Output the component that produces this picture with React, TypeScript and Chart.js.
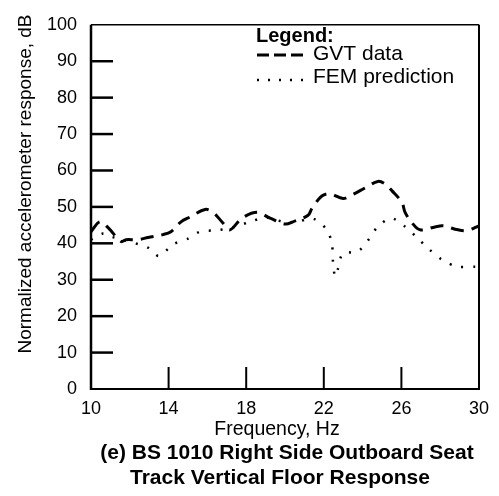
import React, { useEffect, useRef } from "react";
import { Chart, registerables } from "chart.js";

Chart.register(...registerables);

// Frequency (Hz) and normalized response (dB)
const gvtFreq = [10.0, 10.46, 10.88, 11.55, 11.8, 12.42, 12.94, 13.71, 14.12, 14.64, 15.1, 15.88, 16.29, 16.8, 17.16, 17.78, 18.56, 19.23, 20.0, 20.41, 21.19, 21.39, 21.9, 22.32, 22.99, 23.45, 24.12, 24.79, 25.15, 25.52, 26.03, 26.19, 26.55, 26.96, 27.73, 28.14, 28.92, 29.38, 30.0];
const gvtDb = [43.2, 45.9, 44.3, 40.5, 41.0, 41.0, 41.6, 42.4, 43.2, 45.9, 47.2, 49.3, 48.5, 45.6, 43.7, 46.9, 48.5, 46.9, 45.3, 45.9, 47.7, 49.6, 53.0, 53.6, 52.3, 53.3, 55.2, 57.0, 56.3, 54.4, 51.2, 48.5, 45.6, 43.7, 44.5, 44.8, 43.7, 43.5, 44.8];

const femFreq = [10.0, 10.62, 10.98, 11.75, 12.94, 13.5, 14.23, 15.0, 15.62, 16.49, 17.27, 18.2, 19.07, 19.9, 20.62, 21.44, 22.16, 22.42, 22.47, 22.58, 22.73, 22.99, 23.71, 24.28, 24.74, 25.46, 26.13, 26.8, 27.42, 28.09, 28.87, 29.79, 30.0];
const femDb = [41.0, 42.7, 41.9, 40.8, 38.8, 36.5, 39.7, 41.3, 43.2, 43.6, 44.3, 45.9, 47.1, 45.9, 45.9, 46.8, 43.7, 39.7, 35.2, 30.9, 33.0, 37.3, 37.6, 40.8, 44.3, 46.9, 44.8, 41.6, 38.4, 35.5, 33.6, 33.6, 33.6];

const xTickValues = [10, 14, 18, 22, 26, 30];
const yTickValues = [0, 10, 20, 30, 40, 50, 60, 70, 80, 90, 100];

const seriesNames = ["GVT data", "FEM prediction"];
const legendTitle = "Legend:";
const xTitle = "Frequency, Hz";
const yTitle = "Normalized accelerometer response, dB";
const captionLines = ["(e) BS 1010 Right Side Outboard Seat", "Track Vertical Floor Response"];

const FONT = "'Liberation Sans', Arial, Helvetica, sans-serif";

const framePlugin = {
  id: "frameAndText",
  afterDatasetsDraw(chart: any) {
    const { ctx, chartArea, scales } = chart;
    const { left, right, top, bottom } = chartArea;
    const xs = scales.x;
    const ys = scales.y;
    const line = (x1: number, y1: number, x2: number, y2: number) => {
      ctx.beginPath();
      ctx.moveTo(x1, y1);
      ctx.lineTo(x2, y2);
      ctx.stroke();
    };
    ctx.save();
    ctx.strokeStyle = "#000";
    ctx.setLineDash([]);
    ctx.lineCap = "butt";
    ctx.lineWidth = 2.5;
    line(left, top, left, bottom + 1);
    ctx.lineWidth = 2;
    line(left, bottom, right, bottom);
    line(right, top, right, bottom + 1);
    ctx.lineWidth = 1.5;
    line(left, top, right, top);

    ctx.lineWidth = 2.5;
    yTickValues.slice(1, -1).forEach((v) => {
      const py = ys.getPixelForValue(v);
      line(left, py, left + 22, py);
    });
    ctx.lineWidth = 2;
    xTickValues.slice(1, -1).forEach((v) => {
      const px = xs.getPixelForValue(v);
      line(px, bottom, px, bottom - 22);
    });

    ctx.fillStyle = "#000";
    // Y title
    ctx.save();
    ctx.translate(26, 184);
    ctx.rotate(-Math.PI / 2);
    ctx.font = `19px ${FONT}`;
    ctx.textAlign = "center";
    ctx.textBaseline = "middle";
    ctx.fillText(yTitle, 0, 0);
    ctx.restore();

    // X title
    ctx.font = `19.5px ${FONT}`;
    ctx.textAlign = "center";
    ctx.textBaseline = "middle";
    ctx.fillText(xTitle, 277, 430);

    // Caption
    ctx.font = `bold 21px ${FONT}`;
    ctx.fillText(captionLines[0], 287, 453);
    ctx.fillText(captionLines[1], 280, 478);

    // Legend
    ctx.textAlign = "left";
    ctx.font = `bold 20px ${FONT}`;
    ctx.fillText(legendTitle, 256, 36);
    ctx.font = `21px ${FONT}`;
    ctx.fillText(seriesNames[0], 313, 54);
    ctx.fillText(seriesNames[1], 313, 77);
    ctx.lineWidth = 3;
    ctx.setLineDash([12, 5]);
    line(257, 55, 303, 55);
    ctx.lineWidth = 2.5;
    ctx.setLineDash([2, 9]);
    line(257, 80, 303, 80);
    ctx.restore();
  },
};

export default function App() {
  const canvasRef = useRef<HTMLCanvasElement>(null);

  useEffect(() => {
    if (!canvasRef.current) return;
    const chart = new Chart(canvasRef.current, {
      type: "line",
      data: {
        datasets: [
          {
            label: seriesNames[0],
            data: gvtFreq.map((f, i) => ({ x: f, y: gvtDb[i] })),
            borderColor: "#000",
            borderWidth: 3,
            borderDash: [13, 8],
            pointRadius: 0,
            tension: 0.35,
            fill: false,
          },
          {
            label: seriesNames[1],
            data: femFreq.map((f, i) => ({ x: f, y: femDb[i] })),
            borderColor: "#000",
            borderWidth: 2.5,
            borderDash: [2, 10],
            pointRadius: 0,
            tension: 0.3,
            fill: false,
          },
        ],
      },
      options: {
        responsive: false,
        animation: false,
        layout: { padding: { left: 0, top: 14, right: 20, bottom: 0 } },
        plugins: {
          legend: { display: false },
          title: { display: false },
          tooltip: { enabled: false },
        },
        scales: {
          x: {
            type: "linear",
            min: 10,
            max: 30,
            afterFit: (s: any) => {
              s.height = 107;
            },
            afterBuildTicks: (s: any) => {
              s.ticks = xTickValues.map((v) => ({ value: v }));
            },
            border: { display: false },
            grid: { display: false, drawTicks: false },
            ticks: {
              padding: 9,
              color: "#000",
              font: { family: FONT, size: 18 },
              maxRotation: 0,
            },
          },
          y: {
            type: "linear",
            min: 0,
            max: 100,
            afterFit: (s: any) => {
              s.width = 91;
            },
            afterBuildTicks: (s: any) => {
              s.ticks = yTickValues.map((v) => ({ value: v }));
            },
            border: { display: false },
            grid: { display: false, drawTicks: false },
            ticks: {
              padding: 14,
              color: "#000",
              font: { family: FONT, size: 18 },
            },
          },
        },
      },
      plugins: [framePlugin],
    });
    return () => chart.destroy();
  }, []);

  return (
    <div style={{ position: "absolute", left: 0, top: 0, width: 499, height: 496, background: "#fff" }}>
      <canvas ref={canvasRef} width={499} height={496} />
    </div>
  );
}
